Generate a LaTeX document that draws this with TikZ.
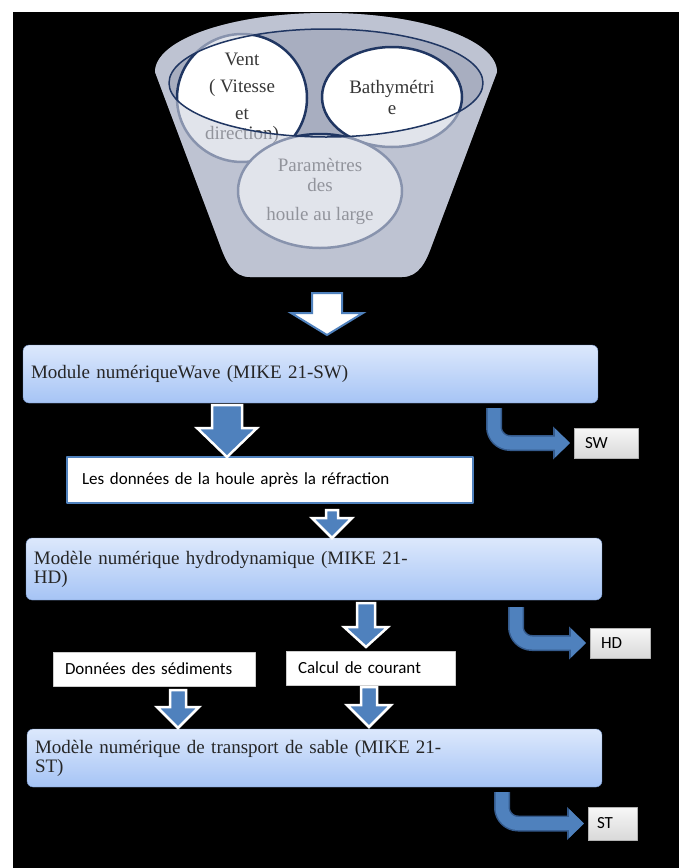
\documentclass[tikz,border=0pt]{standalone}
\usepackage{fontspec}
\setmainfont{Liberation Serif}
\newfontfamily\calibri{Carlito}
\usetikzlibrary{shapes.geometric,arrows.meta}
\definecolor{arrowblue}{RGB}{79,129,189}
\definecolor{arrowedge}{RGB}{52,90,140}
\definecolor{boxtop}{RGB}{220,232,252}
\definecolor{boxbot}{RGB}{166,196,245}
\definecolor{boxedge}{RGB}{110,140,190}
\definecolor{rim}{RGB}{32,54,98}
\definecolor{funback}{RGB}{168,174,192}
\definecolor{funfront}{RGB}{206,210,223}
\definecolor{inktext}{RGB}{55,55,55}
\newcommand{\funnelpath}{(155,72) arc[start angle=180, end angle=0, x radius=171pt, y radius=59pt] -- (432,245) to[out=-110,in=0] (402,277) -- (250,277) to[out=180,in=-70] (220,245) -- cycle}
\tikzset{
	cup/.style={ellipse, draw=rim, line width=2.5pt, fill=white, inner sep=0pt, align=center, text=inktext},
	modbox/.style={rectangle, rounded corners=6pt, draw=boxedge, top color=boxtop, bottom color=boxbot, anchor=north west, align=left, inner xsep=8pt, inner ysep=0pt, outer sep=0pt, text=black!85, font=\fontsize{19}{19}\selectfont},
	databox/.style={rectangle, fill=white, anchor=north west, align=left, inner ysep=0pt, outer sep=0pt, font=\calibri\fontsize{17}{20}\selectfont},
	outbox/.style={rectangle, draw=gray!60, top color=gray!6, bottom color=gray!30, anchor=north west, align=left, inner ysep=0pt, outer sep=0pt, font=\calibri\fontsize{17}{20}\selectfont},
	openarrow/.style={draw=arrowblue, line width=2pt, fill=white, line join=miter},
	fullarrow/.style={draw=white, line width=2.5pt, fill=arrowblue, line join=miter},
	bentarrow/.style={draw=arrowblue, line width=13pt, rounded corners=16pt, shorten >=4pt, -{Triangle[length=15pt,width=28pt]},
		preaction={draw=arrowedge, line width=16pt, -{Triangle[length=17pt,width=32pt]}}}
}
\begin{document}
\begin{tikzpicture}[x=1pt, y=-1pt, line join=round]
	\fill[white] (0,0) rectangle (679,868);
	\fill[black] (13,12) rectangle (679,868);
	% entonnoir
	\fill[funback] \funnelpath;
	\node[cup, minimum width=130pt, minimum height=110pt, font=\fontsize{19}{27}\selectfont] (vent) at (242,98) {Vent\\( Vitesse\\et\\[-7pt]direction)};
	\node[cup, minimum width=140pt, minimum height=100pt, font=\fontsize{19}{21}\selectfont] (bathy) at (392,97) {Bathymétri\\e};
	\node[cup, minimum width=164pt, minimum height=114pt, font=\fontsize{19}{20}\selectfont] (param) at (320,191) {Paramètres\\des\\[9pt]houle au large};
	\fill[funfront, fill opacity=0.6, even odd rule] \funnelpath (326,83) ellipse [x radius=157pt, y radius=54pt];
	\draw[rim, line width=1.5pt] (326,83) ellipse [x radius=157pt, y radius=54pt];
	% modules
	\node[modbox, text width=559pt, minimum height=58pt] (wave) at (23,345) {Module numériqueWave (MIKE 21-SW)};
	\node[databox, draw=arrowblue, line width=2pt, text width=376pt, minimum height=46pt, inner xsep=15pt] (refr) at (67,457) {Les données de la houle après la réfraction};
	\node[modbox, text width=560pt, minimum height=62pt] (hydro) at (26,538) {Modèle numérique hydrodynamique (MIKE 21-\\HD)};
	\node[databox, draw=gray!40, text width=178pt, minimum height=34pt, inner xsep=12pt] (sed) at (53,652) {Données des sédiments};
	\node[databox, draw=gray!40, text width=145pt, minimum height=34pt, inner xsep=12pt] (cour) at (286,651) {Calcul de courant};
	\node[modbox, text width=559pt, minimum height=58pt] (sable) at (27,729) {Modèle numérique de transport de sable (MIKE 21-\\ST)};
	\node[outbox, text width=42pt, minimum height=30pt, inner xsep=11pt] (sw) at (574,428) {SW};
	\node[outbox, text width=38pt, minimum height=30pt, inner xsep=11pt] (hd) at (590,628) {HD};
	\node[outbox, text width=31pt, minimum height=33pt, inner xsep=9pt] (st) at (588,807) {ST};
	% fleches
	\foreach \x/\t/\b/\p/\s/\h/\st in {327/293/313/335/15/36/openarrow, 227/405/428/457/15/30/fullarrow, 332/510/518/538/6/20/fullarrow, 366/603/627/647/9/22/fullarrow, 178/690/707/728/8/21/fullarrow, 369/687/705/727/8/22/fullarrow}
		\draw[\st] (\x-\s,\t) -- (\x+\s,\t) -- (\x+\s,\b) -- (\x+\h,\b) -- (\x,\p) -- (\x-\h,\b) -- (\x-\s,\b) -- cycle;
	\coordinate (swtop) at (494,408);
	\coordinate (hdtop) at (516,607);
	\coordinate (sttop) at (502,792);
	\draw[bentarrow] (swtop) |- (sw.west);
	\draw[bentarrow] (hdtop) |- (hd.west);
	\draw[bentarrow] (sttop) |- (st.west);
\end{tikzpicture}
\end{document}
